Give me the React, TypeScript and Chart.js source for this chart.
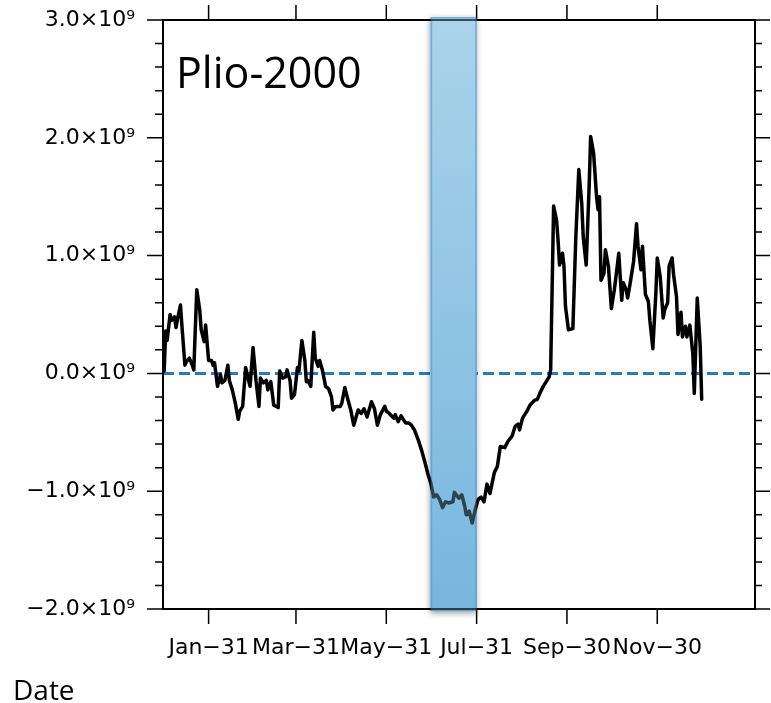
import React, { useEffect, useRef } from 'react';
import { Chart, registerables } from 'chart.js';

Chart.register(...registerables);

// Day of year (0 = Jan 1) and series value in units of 1e9
const days = [
  0, 1, 2, 4, 5, 7, 8, 9, 11, 12, 14, 15, 17, 19, 20, 22, 24, 25, 27, 28,
  30, 32, 33, 34, 36, 38, 39, 41, 43, 44, 46, 48, 50, 51, 53, 55, 57, 58, 60, 62,
  64, 65, 67, 69, 70, 72, 74, 77, 78, 80, 82, 83, 85, 86, 88, 90, 91, 93, 95, 96,
  97, 99, 101, 102, 104, 105, 107, 109, 111, 113, 114, 116, 119, 120, 122, 124, 126, 128, 131, 133,
  135, 137, 140, 142, 144, 146, 149, 150, 152, 155, 156, 158, 160, 163, 165, 167, 169, 172, 174, 176,
  178, 180, 182, 184, 186, 188, 190, 192, 195, 196, 199, 201, 203, 204, 206, 208, 210, 212, 214, 216,
  218, 220, 223, 225, 227, 230, 232, 235, 237, 239, 240, 242, 245, 247, 250, 252, 254, 256, 258, 260,
  261, 263, 265, 266, 267, 269, 270, 271, 273, 276, 278, 280, 282, 283, 285, 287, 288, 290, 292, 293,
  294, 295, 297, 298, 300, 302, 304, 305, 307, 309, 310, 312, 313, 315, 317, 319, 320, 322, 323, 325,
  327, 328, 330, 332, 333, 335, 337, 338, 340, 341, 343, 344, 346, 347, 349, 350, 352, 353, 355, 357,
  358, 360, 362, 363,
];
const values = [
  0.02, 0.36, 0.28, 0.50, 0.45, 0.48, 0.39, 0.46, 0.58, 0.40, 0.07, 0.10, 0.13, 0.07, 0.03, 0.71, 0.54, 0.37, 0.27, 0.41,
  0.11, 0.11, 0.07, 0.09, -0.11, -0.01, -0.08, -0.06, 0.07, -0.06, -0.14, -0.25, -0.39, -0.32, -0.28, 0.05, -0.06, -0.11, 0.22, -0.06,
  -0.28, -0.04, -0.08, -0.06, -0.14, -0.07, -0.27, -0.29, 0.02, -0.04, -0.03, 0.03, -0.06, -0.21, -0.18, 0.05, 0.02, 0.28, 0.11, -0.07,
  -0.06, -0.11, 0.35, 0.13, 0.06, 0.11, 0.02, -0.11, -0.13, -0.20, -0.31, -0.28, -0.28, -0.25, -0.12, -0.22, -0.31, -0.44, -0.31, -0.34,
  -0.30, -0.37, -0.24, -0.30, -0.44, -0.35, -0.28, -0.32, -0.34, -0.38, -0.35, -0.41, -0.36, -0.42, -0.42, -0.44, -0.48, -0.58, -0.66, -0.75,
  -0.85, -0.93, -1.05, -1.03, -1.07, -1.14, -1.09, -1.10, -1.09, -1.01, -1.06, -1.03, -1.13, -1.20, -1.17, -1.27, -1.16, -1.07, -1.05, -1.09,
  -0.94, -1.02, -0.84, -0.79, -0.62, -0.63, -0.58, -0.53, -0.45, -0.43, -0.48, -0.38, -0.32, -0.27, -0.23, -0.22, -0.16, -0.11, -0.07, -0.03,
  0.03, 1.42, 1.30, 1.13, 0.92, 1.02, 0.91, 0.57, 0.37, 0.38, 1.16, 1.73, 1.44, 1.16, 0.92, 1.59, 2.01, 1.87, 1.50, 1.39,
  1.50, 0.79, 0.85, 1.05, 0.91, 0.55, 0.71, 0.81, 1.02, 0.62, 0.77, 0.71, 0.64, 0.79, 0.95, 1.27, 1.08, 0.88, 1.08, 0.67,
  0.61, 0.45, 0.21, 0.67, 0.98, 0.82, 0.47, 0.54, 0.60, 0.91, 0.98, 0.84, 0.65, 0.33, 0.52, 0.31, 0.40, 0.31, 0.41, 0.17,
  -0.17, 0.64, 0.23, -0.22,
];

const xTickDays = [30, 89, 150, 211, 272, 333];
const xTickLabels = ['Jan\u221231', 'Mar\u221231', 'May\u221231', 'Jul\u221231', 'Sep\u221230', 'Nov\u221230'];
const xRange = [-0.8, 399];
const yRange = [-2, 3];
const bandDays = [180, 211];
const titleText = 'Plio-2000';
const xAxisTitle = 'Date';

const fmtY = (v: number) => {
  const s = Math.abs(v).toFixed(1);
  return (v < 0 ? '\u2212' : '') + s + '\u00d710\u2079';
};

function drawBand(chart: any, alpha: number, full: boolean) {
  const { ctx, chartArea, scales } = chart;
  const x0 = scales.x.getPixelForValue(bandDays[0]);
  const x1 = scales.x.getPixelForValue(bandDays[1]);
  const top = chartArea.top - 3;
  const bot = chartArea.bottom + 2;
  const g = ctx.createLinearGradient(0, top, 0, bot);
  g.addColorStop(0, '#abd3ea');
  g.addColorStop(1, '#78b6de');
  ctx.save();
  if (full) {
    ctx.shadowColor = 'rgba(0,0,0,0.4)';
    ctx.shadowBlur = 6;
    ctx.shadowOffsetX = -1;
    ctx.shadowOffsetY = 2;
  }
  ctx.globalAlpha = alpha;
  ctx.fillStyle = g;
  ctx.fillRect(x0, top, x1 - x0, bot - top);
  ctx.restore();
  if (full) {
    ctx.save();
    ctx.strokeStyle = '#4b9fd3';
    ctx.lineWidth = 1.5;
    ctx.strokeRect(x0 + 0.75, top + 0.75, x1 - x0 - 1.5, bot - top - 1.5);
    ctx.restore();
  }
}

function drawFrame(chart: any) {
  const { ctx, chartArea, scales } = chart;
  const { left, right, top, bottom } = chartArea;
  ctx.save();
  ctx.strokeStyle = '#000';
  ctx.lineWidth = 1.5;
  ctx.beginPath();
  for (let i = Math.round(yRange[0] * 5); i <= Math.round(yRange[1] * 5); i++) {
    const v = i / 5;
    const y = scales.y.getPixelForValue(v);
    const major = i % 5 === 0;
    ctx.moveTo(left - (major ? 16 : 8), y);
    ctx.lineTo(left, y);
    ctx.moveTo(right, y);
    ctx.lineTo(right + (major ? 15 : 7), y);
  }
  xTickDays.forEach((d) => {
    const x = scales.x.getPixelForValue(d);
    ctx.moveTo(x, bottom);
    ctx.lineTo(x, bottom + 15);
    ctx.moveTo(x, top);
    ctx.lineTo(x, top - 15);
  });
  ctx.stroke();
  ctx.lineWidth = 2;
  ctx.strokeRect(left, top, right - left, bottom - top);
  ctx.restore();
}

const customPlugin = {
  id: 'customDecor',
  afterDatasetDraw(chart: any, args: any) {
    if (args.index === 1) {
      drawBand(chart, 1, true);
      drawFrame(chart);
    }
  },
  afterDatasetsDraw(chart: any) {
    drawBand(chart, 0.35, false);
  },
  afterDraw(chart: any) {
    const { ctx } = chart;
    ctx.save();
    ctx.fillStyle = '#000';
    ctx.textBaseline = 'alphabetic';
    ctx.textAlign = 'left';
    ctx.font = '43px "Open Sans"';
    ctx.fillText(titleText, 176, 88);
    ctx.font = '28px "Open Sans"';
    ctx.fillText(xAxisTitle, 13, 700);
    ctx.restore();
  },
};

export default function App() {
  const ref = useRef<HTMLCanvasElement | null>(null);
  useEffect(() => {
    if (!ref.current) return;
    const tickFont = { family: '"DejaVu Sans"', size: 22 };
    const chart = new Chart(ref.current, {
      type: 'line',
      data: {
        datasets: [
          {
            data: days.map((d, i) => ({ x: d, y: values[i] })),
            borderColor: '#000',
            borderWidth: 3.5,
            borderJoinStyle: 'round',
            borderCapStyle: 'round',
            pointRadius: 0,
            tension: 0,
            order: 0,
          },
          {
            data: [
              { x: xRange[0], y: 0 },
              { x: xRange[1], y: 0 },
            ],
            borderColor: '#2a7bb9',
            borderWidth: 3,
            borderDash: [11, 5],
            pointRadius: 0,
            order: 1,
          },
        ],
      },
      options: {
        responsive: false,
        animation: false,
        devicePixelRatio: 1,
        layout: { padding: { top: 20, right: 16, left: 0, bottom: 0 } },
        plugins: { legend: { display: false }, tooltip: { enabled: false } },
        scales: {
          x: {
            type: 'linear',
            min: xRange[0],
            max: xRange[1],
            grid: { display: false, drawTicks: false },
            border: { display: false },
            afterBuildTicks: (scale: any) => {
              scale.ticks = xTickDays.map((v) => ({ value: v }));
            },
            afterFit: (scale: any) => {
              scale.height = 94;
              scale.paddingLeft = 0;
              scale.paddingRight = 0;
            },
            ticks: {
              autoSkip: false,
              maxRotation: 0,
              minRotation: 0,
              padding: 26,
              color: '#000',
              font: tickFont,
              callback: (v: any) => {
                const i = xTickDays.indexOf(Number(v));
                return i >= 0 ? xTickLabels[i] : '';
              },
            },
          },
          y: {
            type: 'linear',
            min: yRange[0],
            max: yRange[1],
            grid: { display: false, drawTicks: false },
            border: { display: false },
            afterFit: (scale: any) => {
              scale.width = 163;
              scale.paddingTop = 0;
              scale.paddingBottom = 0;
            },
            ticks: {
              stepSize: 1,
              padding: 28,
              color: '#000',
              font: tickFont,
              callback: (v: any) => fmtY(Number(v)),
            },
          },
        },
      },
      plugins: [customPlugin],
    });
    return () => chart.destroy();
  }, []);
  return (
    <div style={{ position: 'absolute', left: 0, top: 0, width: 771, height: 703, background: '#fff' }}>
      <canvas ref={ref} width={771} height={703} style={{ display: 'block' }} />
    </div>
  );
}
